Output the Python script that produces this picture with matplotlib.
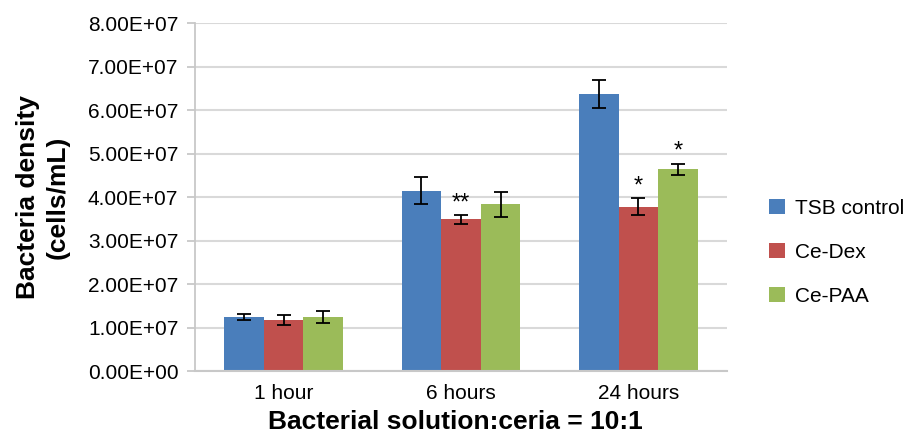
import matplotlib.pyplot as plt
import numpy as np

plt.rcParams['font.family'] = ['Liberation Sans', 'DejaVu Sans']

# Data
groups = ['1 hour', '6 hours', '24 hours']
series = ['TSB control', 'Ce-Dex', 'Ce-PAA']
tsb = [1.24e7, 4.15e7, 6.37e7]
tsb_err = [0.06e7, 0.31e7, 0.32e7]
dex = [1.17e7, 3.49e7, 3.78e7]
dex_err = [0.12e7, 0.10e7, 0.20e7]
paa = [1.24e7, 3.83e7, 4.64e7]
paa_err = [0.135e7, 0.28e7, 0.13e7]
# significance marks: (group index, series index, label)
marks = [(1, 1, '**'), (2, 1, '*'), (2, 2, '*')]

colors = ['#4a7ebb', '#c0504d', '#9bbb59']
yticks = np.arange(0, 8.01e7, 1e7)
ytick_labels = ['%.2fE+%02d' % (v / 1e7, 7) if v > 0 else '0.00E+00' for v in yticks]

fig = plt.figure(figsize=(9.04, 4.37), dpi=100)
ax = fig.add_axes([0.2157, 0.151, 0.5885, 0.796])

x = np.arange(len(groups))
w = 0.223
values = [tsb, dex, paa]
errs = [tsb_err, dex_err, paa_err]
for i, (vals, er) in enumerate(zip(values, errs)):
    ax.bar(x + (i - 1) * w, vals, width=w, color=colors[i], label=series[i],
           zorder=2)
    ax.errorbar(x + (i - 1) * w, vals, yerr=er, fmt='none', ecolor='black',
                elinewidth=1.3, capsize=5, capthick=1.3, zorder=3)

for g, s, lab in marks:
    top = values[s][g] + errs[s][g]
    ax.text(x[g] + (s - 1) * w, top + 0.02e7, lab, ha='center', va='bottom',
            fontsize=17)

ax.set_xlim(-0.5, 2.5)
ax.set_ylim(0, 8e7)
ax.set_yticks(yticks)
ax.set_yticklabels(ytick_labels)
ax.set_xticks(x)
ax.set_xticklabels(groups)
ax.yaxis.grid(True, color='#d9d9d9', linewidth=1.5, zorder=0)
ax.set_axisbelow(True)

for sp in ['top', 'right']:
    ax.spines[sp].set_visible(False)
ax.spines['left'].set_color('#c8c8c8')
ax.spines['bottom'].set_color('#c8c8c8')
ax.spines['left'].set_linewidth(1.3)
ax.spines['bottom'].set_linewidth(1.5)
ax.tick_params(axis='y', length=6, color='#c8c8c8', width=1.3, labelsize=15, pad=6)
ax.tick_params(axis='x', length=0, labelsize=15, pad=9)

ax.set_ylabel('Bacteria density\n(cells/mL)', fontsize=19, fontweight='bold',
              linespacing=1.3)
ax.yaxis.set_label_coords(-0.235, 0.5)
ax.set_xlabel('Bacterial solution:ceria = 10:1', fontsize=19, fontweight='bold')
ax.xaxis.set_label_coords(0.4897, -0.112)

ax.legend(loc='center left', bbox_to_anchor=(1.064, 0.342), frameon=False,
          fontsize=15, handlelength=0.75, handleheight=0.75,
          labelspacing=1.2, handletextpad=0.5, borderaxespad=0)

plt.savefig('out.png', dpi=100)
